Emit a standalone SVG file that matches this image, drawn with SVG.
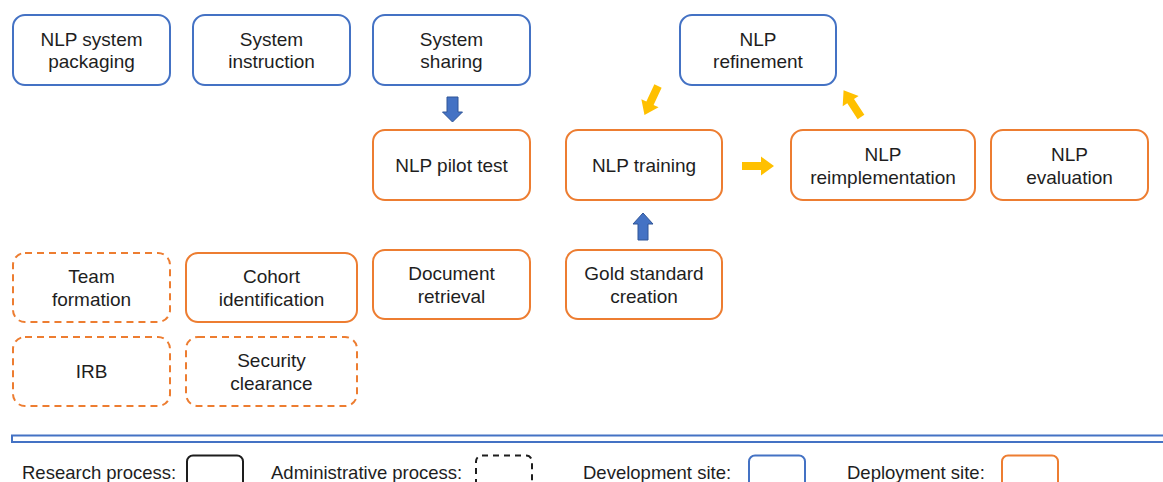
<svg xmlns="http://www.w3.org/2000/svg" width="1163" height="482" viewBox="0 0 1163 482">
  <defs>
    <style>
      .box { fill: #ffffff; stroke-width: 2; }
      .dev { stroke: #4472C4; }
      .dep { stroke: #ED7D31; }
      .dash { stroke-dasharray: 7 5; }
      .lbl { font-family: "Liberation Sans", Arial, sans-serif; font-size: 19px; fill: #1e1e1e; text-anchor: middle; }
      .leg { font-family: "Liberation Sans", Arial, sans-serif; font-size: 18.5px; fill: #1e1e1e; }
      .ya { fill: #FFC000; }
      .ba { fill: #4472C4; stroke: #2F5597; stroke-width: 1; }
    </style>
    <!-- block arrow pointing along +x, tail at origin -->
    <path id="blk" d="M0,-4 L19,-4 L19,-9.5 L32,0 L19,9.5 L19,4 L0,4 Z"/>
  </defs>

  <rect width="1163" height="482" fill="#ffffff"/>

  <!-- development site row -->
  <g id="nlp-system-packaging">
    <rect class="box dev" x="13" y="15" width="157" height="70" rx="12"/>
    <text class="lbl" x="91.5" y="46">NLP system</text>
    <text class="lbl" x="91.5" y="68">packaging</text>
  </g>
  <g id="system-instruction">
    <rect class="box dev" x="193" y="15" width="157" height="70" rx="12"/>
    <text class="lbl" x="271.5" y="46">System</text>
    <text class="lbl" x="271.5" y="68">instruction</text>
  </g>
  <g id="system-sharing">
    <rect class="box dev" x="373" y="15" width="157" height="70" rx="12"/>
    <text class="lbl" x="451.5" y="46">System</text>
    <text class="lbl" x="451.5" y="68">sharing</text>
  </g>
  <g id="nlp-refinement">
    <rect class="box dev" x="680" y="15" width="156" height="70" rx="12"/>
    <text class="lbl" x="758" y="46">NLP</text>
    <text class="lbl" x="758" y="68">refinement</text>
  </g>

  <!-- deployment site: NLP work -->
  <g id="nlp-pilot-test">
    <rect class="box dep" x="373" y="130" width="157" height="70" rx="12"/>
    <text class="lbl" x="451.5" y="172">NLP pilot test</text>
  </g>
  <g id="nlp-training">
    <rect class="box dep" x="566" y="130" width="156" height="70" rx="12"/>
    <text class="lbl" x="644" y="172">NLP training</text>
  </g>
  <g id="nlp-reimplementation">
    <rect class="box dep" x="791" y="130" width="184" height="70" rx="12"/>
    <text class="lbl" x="883" y="161">NLP</text>
    <text class="lbl" x="883" y="184">reimplementation</text>
  </g>
  <g id="nlp-evaluation">
    <rect class="box dep" x="991" y="130" width="157" height="70" rx="12"/>
    <text class="lbl" x="1069.5" y="161">NLP</text>
    <text class="lbl" x="1069.5" y="184">evaluation</text>
  </g>

  <!-- deployment site: preparation -->
  <g id="team-formation">
    <rect class="box dep dash" x="13" y="253" width="157" height="69" rx="12"/>
    <text class="lbl" x="91.5" y="283">Team</text>
    <text class="lbl" x="91.5" y="306">formation</text>
  </g>
  <g id="cohort-identification">
    <rect class="box dep" x="186" y="253" width="171" height="69" rx="12"/>
    <text class="lbl" x="271.5" y="283">Cohort</text>
    <text class="lbl" x="271.5" y="306">identification</text>
  </g>
  <g id="document-retrieval">
    <rect class="box dep" x="373" y="250" width="157" height="69" rx="12"/>
    <text class="lbl" x="451.5" y="280">Document</text>
    <text class="lbl" x="451.5" y="303">retrieval</text>
  </g>
  <g id="gold-standard-creation">
    <rect class="box dep" x="566" y="250" width="156" height="69" rx="12"/>
    <text class="lbl" x="644" y="280">Gold standard</text>
    <text class="lbl" x="644" y="303">creation</text>
  </g>
  <g id="irb">
    <rect class="box dep dash" x="13" y="337" width="157" height="69" rx="12"/>
    <text class="lbl" x="91.5" y="378">IRB</text>
  </g>
  <g id="security-clearance">
    <rect class="box dep dash" x="186" y="337" width="171" height="69" rx="12"/>
    <text class="lbl" x="271.5" y="367">Security</text>
    <text class="lbl" x="271.5" y="390">clearance</text>
  </g>

  <!-- connectors -->
  <g id="connectors">
    <path class="ba" d="M447,97 L458,97 L458,112 L462.5,112 L452.5,122 L442.5,112 L447,112 Z"/>
    <path class="ba" d="M638,240 L648,240 L648,224 L653,224 L643,213 L633,224 L638,224 Z"/>
    <use href="#blk" class="ya" transform="translate(742,166)"/>
    <use href="#blk" class="ya" transform="translate(658,86) rotate(115)"/>
    <use href="#blk" class="ya" transform="translate(861,117) rotate(237)"/>
  </g>

  <!-- separator -->
  <rect x="12" y="435.5" width="1170" height="6.5" fill="none" stroke="#4472C4" stroke-width="2"/>

  <!-- legend -->
  <g id="legend">
    <text class="leg" x="22" y="479">Research process:</text>
    <rect x="187" y="455.5" width="56" height="32" rx="6" fill="none" stroke="#1e1e1e" stroke-width="2"/>
    <text class="leg" x="271" y="479">Administrative process:</text>
    <rect x="476" y="455.5" width="56" height="32" rx="6" fill="none" stroke="#1e1e1e" stroke-width="2" stroke-dasharray="6 5"/>
    <text class="leg" x="583" y="479">Development site:</text>
    <rect x="749" y="455.5" width="56" height="32" rx="6" fill="none" stroke="#4472C4" stroke-width="2"/>
    <text class="leg" x="847" y="479">Deployment site:</text>
    <rect x="1002" y="455.5" width="56" height="32" rx="6" fill="none" stroke="#ED7D31" stroke-width="2"/>
  </g>
</svg>
